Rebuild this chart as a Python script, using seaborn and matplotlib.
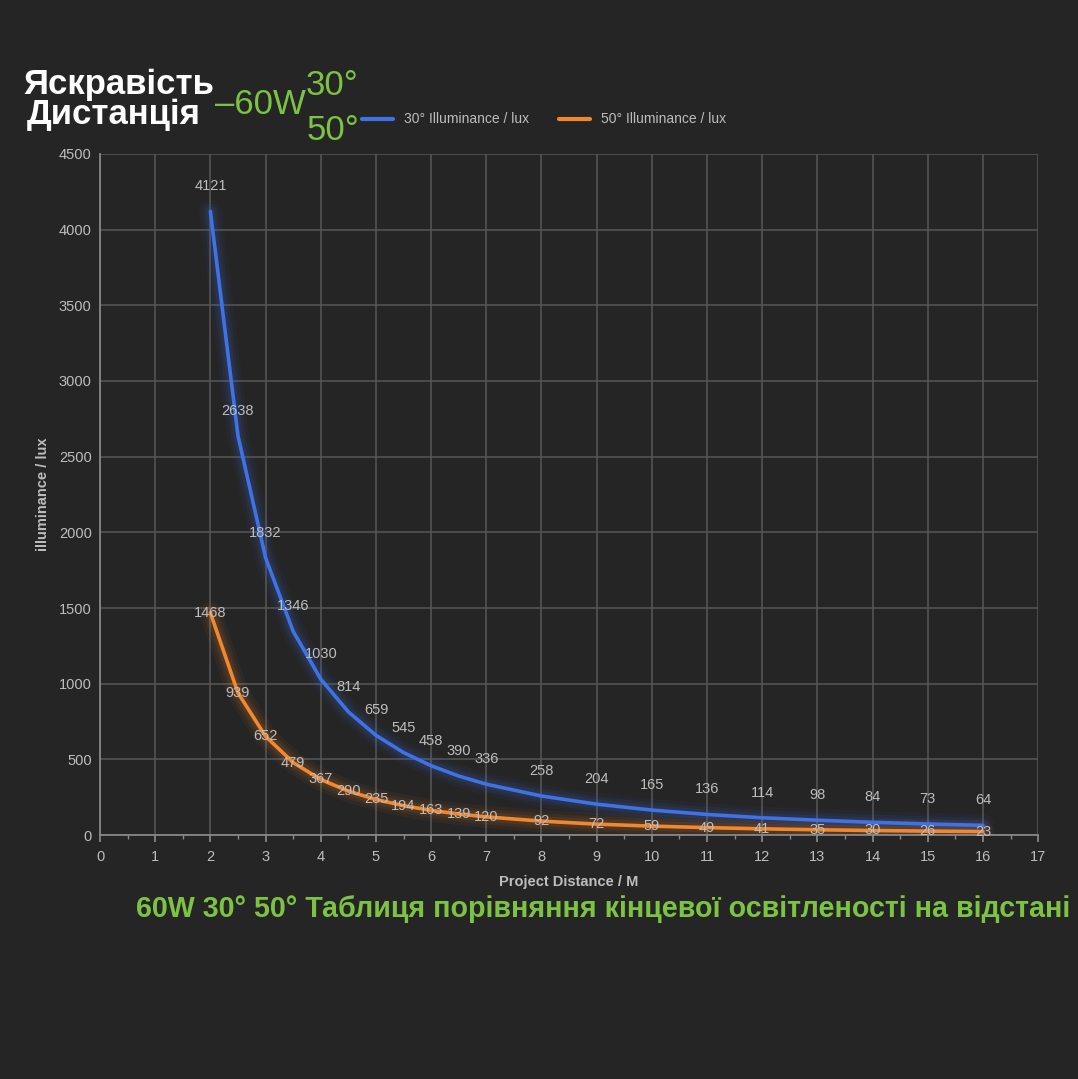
import matplotlib
matplotlib.use("Agg")
import matplotlib.pyplot as plt
import numpy as np
import pandas as pd
import seaborn as sns

# дані з графіка
distance = [2, 2.5, 3, 3.5, 4, 4.5, 5, 5.5, 6, 6.5, 7, 8, 9, 10, 11, 12, 13, 14, 15, 16]
lux_30 = [4121, 2638, 1832, 1346, 1030, 814, 659, 545, 458, 390, 336,
          258, 204, 165, 136, 114, 98, 84, 73, 64]
lux_50 = [1468, 939, 652, 479, 367, 290, 235, 194, 163, 139, 120,
          92, 72, 59, 49, 41, 35, 30, 26, 23]
series_names = ["30° Illuminance / lux", "50° Illuminance / lux"]

bg = "#252525"
grid_c = "#575757"
txt_c = "#bdbdbd"
green = "#7cc243"
blue = "#3f72e6"
orange = "#f2882e"

sns.set_theme(style="dark", rc={
    "figure.facecolor": bg, "axes.facecolor": bg, "savefig.facecolor": bg,
    "axes.edgecolor": "#8a8a8a", "grid.color": grid_c,
    "xtick.color": txt_c, "ytick.color": txt_c, "text.color": txt_c,
    "axes.labelcolor": txt_c,
})
plt.rcParams["font.family"] = ["Liberation Sans", "DejaVu Sans"]

df = pd.DataFrame({
    "distance": distance * 2,
    "lux": lux_30 + lux_50,
    "series": [series_names[0]] * len(distance) + [series_names[1]] * len(distance),
})

fig = plt.figure(figsize=(10.78, 10.79), dpi=100)
ax = fig.add_axes([0.0928, 0.2261, 0.8702, 0.6312])

# світіння ліній
for lw, a in [(16, 0.05), (11, 0.07), (7, 0.10)]:
    sns.lineplot(data=df, x="distance", y="lux", hue="series",
                 palette=[blue, orange], linewidth=lw, alpha=a, legend=False, ax=ax)
sns.lineplot(data=df, x="distance", y="lux", hue="series",
             palette=[blue, orange], linewidth=2.6, ax=ax)

ax.set_xlim(0, 17)
ax.set_ylim(0, 4500)
ax.set_xticks(range(0, 18))
ax.set_xticks(np.arange(0.5, 17, 1), minor=True)
ax.set_yticks(range(0, 4501, 500))
ax.grid(True, which="major", color=grid_c, linewidth=1.1)
ax.tick_params(axis="both", labelsize=10.5, length=0, pad=6)
ax.tick_params(axis="x", which="both", bottom=True, direction="out", color="#8a8a8a")
ax.tick_params(axis="x", which="major", length=5)
ax.tick_params(axis="x", which="minor", length=3)
for s in ["top", "right"]:
    ax.spines[s].set_visible(False)
ax.spines["left"].set_color("#8a8a8a")
ax.spines["bottom"].set_color("#8a8a8a")
ax.set_xlabel("Project Distance / M", fontsize=10.5, labelpad=8, fontweight="semibold")
ax.set_ylabel("illuminance / lux", fontsize=10.5, labelpad=6, fontweight="semibold")

# підписи значень
for x, v in zip(distance, lux_30):
    ax.annotate(str(v), (x, v), xytext=(0, 18), textcoords="offset points",
                ha="center", va="center", fontsize=10.5, color=txt_c)
for x, v in zip(distance, lux_50):
    ax.annotate(str(v), (x, v), xytext=(0, 0), textcoords="offset points",
                ha="center", va="center", fontsize=10.5, color=txt_c)

leg = ax.legend(loc="lower left", bbox_to_anchor=(0.266, 1.022), ncol=2, frameon=False,
                fontsize=10, handlelength=2.2, columnspacing=2.2, labelcolor=txt_c)
for h in leg.get_lines():
    h.set_linewidth(3)

# заголовки
fig.text(0.022, 0.922, "Яскравість", fontsize=25, fontweight="bold", color="white",
         va="center", ha="left")
fig.text(0.025, 0.894, "Дистанція", fontsize=25, fontweight="bold", color="white",
         va="center", ha="left")
fig.text(0.199, 0.903, "–60W", fontsize=25, color=green, va="center", ha="left")
fig.text(0.284, 0.921, "30°", fontsize=25, color=green, va="center", ha="left")
fig.text(0.284, 0.879, "50°", fontsize=25, color=green, va="center", ha="left")
fig.text(0.993, 0.158, "60W 30° 50° Таблиця порівняння кінцевої освітленості на відстані",
         fontsize=20.6, fontweight="bold", color=green, va="center", ha="right")

fig.savefig("out.png", dpi=100)
